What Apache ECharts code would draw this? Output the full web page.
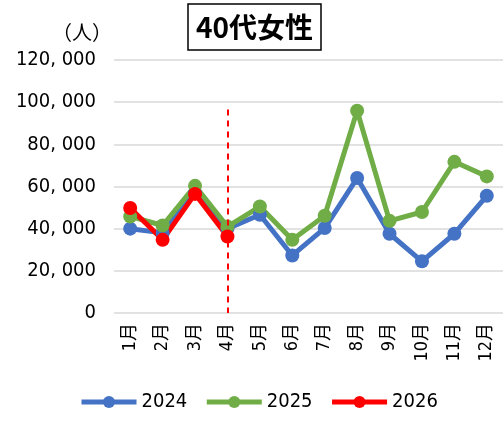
<!DOCTYPE html>
<html><head><meta charset="utf-8">
<script src="https://cdn.jsdelivr.net/npm/echarts@6/dist/echarts.min.js"></script>
<style>html,body{margin:0;padding:0;background:#fff}#c{width:504px;height:422px}</style>
</head><body><div id="c"></div>
<script>
const categories = ['1月','2月','3月','4月','5月','6月','7月','8月','9月','10月','11月','12月'];
const s2024 = [40000, 38000, 57000, 40000, 46600, 27300, 40300, 64000, 37600, 24500, 37600, 55600];
const s2025 = [45800, 41500, 60300, 41000, 50500, 34700, 46100, 95900, 43700, 47900, 71700, 64800];
const s2026 = [49800, 34700, 56500, 36300];
const seriesNames = ['2024','2025','2026'];
const markMonth = '4月';
const markTop = 96500;
const FONT = "'DejaVu Sans Condensed','Noto Sans CJK JP',sans-serif";
const chart = echarts.init(document.getElementById('c'));
function fmt(v){ return String(v).replace(/\B(?=(\d{3})+(?!\d))/g, ', '); }
const lineStyle = (c)=>({width:5, color:c});
chart.setOption({
  animation:false,
  title:{text:'40代女性', left:188, top:4, padding:[8,8,8,8], borderColor:'#000', borderWidth:1.5,
    textStyle:{fontSize:28, fontWeight:'bold', color:'#000', fontFamily:"'Noto Sans CJK JP',sans-serif", lineHeight:30}},
  graphic:[{type:'text', left:52, top:22, style:{text:'（人）', fontSize:20, fill:'#000', fontFamily:"'Noto Sans CJK JP',sans-serif"}}],
  grid:{left:114, right:1, top:60, bottom:109},
  legend:{bottom:5, left:74, itemWidth:55, itemHeight:15, itemGap:17,
    lineStyle:{width:5},
    textStyle:{fontSize:20, color:'#000', fontFamily:FONT}, data:seriesNames},
  xAxis:{type:'category', data:categories, boundaryGap:true,
    axisLine:{show:false}, axisTick:{show:false},
    axisLabel:{rotate:90, fontSize:18, color:'#000', fontFamily:FONT, margin:10, interval:0}},
  yAxis:{type:'value', min:0, max:120000, interval:20000,
    axisLabel:{formatter:fmt, fontSize:20, color:'#000', fontFamily:FONT, margin:18},
    splitLine:{lineStyle:{color:'#d9d9d9', width:1.5}}},
  series:[
    {name:seriesNames[0], type:'line', data:s2024, symbol:'circle', symbolSize:14, color:'#4472C4', lineStyle:lineStyle('#4472C4')},
    {name:seriesNames[1], type:'line', data:s2025, symbol:'circle', symbolSize:14, color:'#70AD47', lineStyle:lineStyle('#70AD47')},
    {name:seriesNames[2], type:'line', data:s2026, symbol:'circle', symbolSize:14, color:'#FF0000', lineStyle:lineStyle('#FF0000'),
      markLine:{silent:true, symbol:'none', label:{show:false},
        lineStyle:{type:[6,5], color:'#FF0000', width:2},
        data:[[{coord:[markMonth, markTop]},{coord:[markMonth, 0]}]]}}
  ]
});
</script></body></html>
